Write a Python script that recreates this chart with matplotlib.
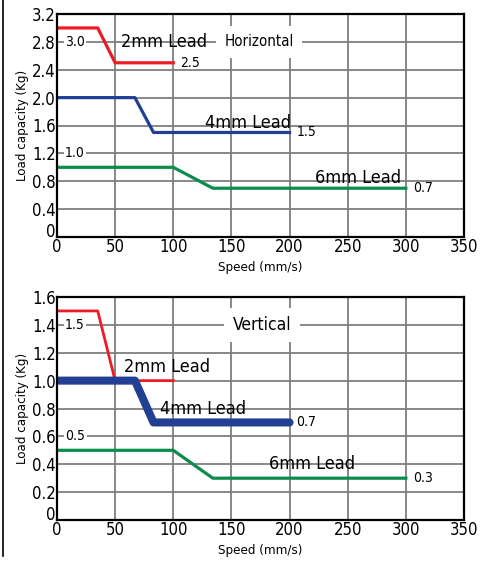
import numpy as np
import matplotlib
matplotlib.use('Agg')
import matplotlib.pyplot as plt
from matplotlib.lines import Line2D

plt.rcParams['font.family'] = ['DejaVu Sans']
plt.rcParams['font.stretch'] = 'condensed'

# 水平安装 (Horizontal)
h_speed_2mm = [0, 35, 50, 100]
h_load_2mm = [3.0, 3.0, 2.5, 2.5]
h_speed_4mm = [0, 67, 83, 200]
h_load_4mm = [2.0, 2.0, 1.5, 1.5]
h_speed_6mm = [0, 100, 134, 300]
h_load_6mm = [1.0, 1.0, 0.7, 0.7]

# 垂直安装 (Vertical)
v_speed_2mm = [0, 35, 50, 100]
v_load_2mm = [1.5, 1.5, 1.0, 1.0]
v_speed_4mm = [0, 67, 83, 200]
v_load_4mm = [1.0, 1.0, 0.7, 0.7]
v_speed_6mm = [0, 100, 134, 300]
v_load_6mm = [0.5, 0.5, 0.3, 0.3]

x_ticks = [0, 50, 100, 150, 200, 250, 300, 350]
h_yticks = [0, 0.4, 0.8, 1.2, 1.6, 2.0, 2.4, 2.8, 3.2]
v_yticks = [0, 0.2, 0.4, 0.6, 0.8, 1.0, 1.2, 1.4, 1.6]

RED = '#ed1c24'
BLUE = '#233f94'
GREEN = '#0b8c4c'
GRID = '#7f7f7f'

fig = plt.figure(figsize=(4.9, 5.66), dpi=100)
W, H = 490, 566


def make_axes(top_px, bottom_px):
    ax = fig.add_axes([57 / W, 1 - bottom_px / H, (464 - 57) / W, (bottom_px - top_px) / H])
    return ax


def style(ax, yticks):
    ax.set_xlim(0, 350)
    ax.set_ylim(yticks[0], yticks[-1])
    ax.set_xticks(x_ticks)
    ax.set_yticks(yticks)
    ax.set_yticklabels(['0'] + ['%.1f' % v for v in yticks[1:]])
    ax.grid(True, color=GRID, linewidth=1.3, zorder=0)
    ax.tick_params(length=0, labelsize=12, pad=1)
    # 纵轴 0 稍微上移，避免和横轴 0 重叠
    ax.get_yticklabels()[0].set_verticalalignment('baseline')
    for s in ax.spines.values():
        s.set_linewidth(1.6)
        s.set_color('black')
        s.set_zorder(5)
    ax.set_xlabel('Speed (mm/s)', fontsize=9.5, labelpad=3)
    ax.set_ylabel('Load capacity (Kg)', fontsize=9.5, labelpad=2)
    ax.set_axisbelow(True)


box = dict(facecolor='white', edgecolor='none', pad=1)

# 上图
ax = make_axes(14, 237)
style(ax, h_yticks)
ax.plot(h_speed_2mm, h_load_2mm, color=RED, lw=2.3, zorder=3)
ax.plot(h_speed_4mm, h_load_4mm, color=BLUE, lw=2.3, zorder=3)
ax.plot(h_speed_6mm, h_load_6mm, color=GREEN, lw=2.3, zorder=3)
ax.text(7, 2.8, h_load_2mm[0], fontsize=10, va='center', bbox=box)
ax.text(55, 2.8, '2mm Lead', fontsize=13, va='center')
ax.text(144, 2.8, 'Horizontal', fontsize=10.8, va='center',
        bbox=dict(facecolor='white', edgecolor='none', pad=6))
ax.text(106, 2.5, h_load_2mm[-1], fontsize=10, va='center')
ax.text(127, 1.63, '4mm Lead', fontsize=13, va='center')
ax.text(206, 1.5, h_load_4mm[-1], fontsize=10, va='center')
ax.text(7, 1.2, h_load_6mm[0], fontsize=10, va='center', bbox=box)
ax.text(222, 0.84, '6mm Lead', fontsize=13, va='center')
ax.text(306, 0.7, h_load_6mm[-1], fontsize=10, va='center')

# 下图
ax = make_axes(297, 520)
style(ax, v_yticks)
ax.plot(v_speed_2mm, v_load_2mm, color=RED, lw=2.0, zorder=3)
ax.plot(v_speed_4mm, v_load_4mm, color=BLUE, lw=5.8, zorder=3, solid_capstyle='round')
ax.plot(v_speed_6mm, v_load_6mm, color=GREEN, lw=2.3, zorder=3)
ax.text(7, 1.4, v_load_2mm[0], fontsize=10, va='center', bbox=box)
ax.text(151, 1.4, 'Vertical', fontsize=12.5, va='center',
        bbox=dict(facecolor='white', edgecolor='none', pad=6))
ax.text(58, 1.1, '2mm Lead', fontsize=13, va='center', zorder=4)
ax.text(89, 0.8, '4mm Lead', fontsize=13, va='center', zorder=4)
ax.text(206, 0.7, v_load_4mm[-1], fontsize=10, va='center')
ax.text(7, 0.6, v_load_6mm[0], fontsize=10, va='center', bbox=box)
ax.text(182, 0.4, '6mm Lead', fontsize=13, va='center', zorder=4)
ax.text(306, 0.3, v_load_6mm[-1], fontsize=10, va='center')

# 左侧边框线
fig.add_artist(Line2D([3 / W, 3 / W], [1 - 556 / H, 1], color='black', lw=1.2))

fig.savefig('out.png', dpi=100)
